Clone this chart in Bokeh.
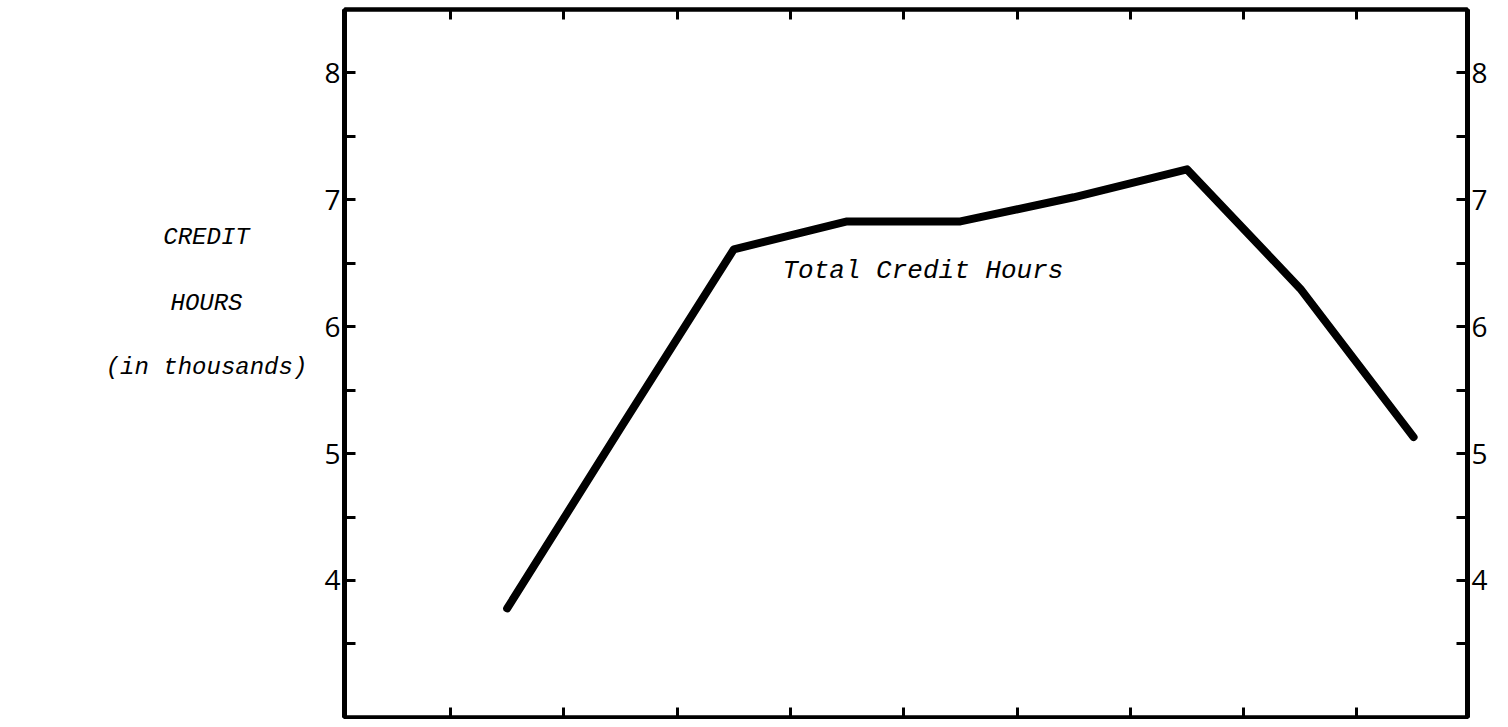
from bokeh.plotting import figure
from bokeh.layouts import row
from bokeh.models import Range1d, LinearAxis, FixedTicker, Label, CustomJSTickFormatter
from bokeh.core.properties import value
from bokeh.embed import file_html
from bokeh.resources import INLINE

# Data
periods = [1, 2, 3, 4, 5, 6, 7, 8, 9]
credit_hours = [3.78, 5.20, 6.61, 6.83, 6.83, 7.02, 7.24, 6.30, 5.13]
y_major = [4, 5, 6, 7, 8]
y_minor = [3.5, 4.5, 5.5, 6.5, 7.5]
x_ticks = [0.5, 1.5, 2.5, 3.5, 4.5, 5.5, 6.5, 7.5, 8.5]
series_label = "Total Credit Hours"
axis_lines = ["CREDIT", "HOURS", "(in thousands)"]
axis_line_y = [6.70, 6.18, 5.68]

TYPE_FONT = "Liberation Mono"
NUM_FONT = "Open Sans"
Y_RANGE = (2.92, 8.5)

# Left panel holding the horizontal y-axis title
side = figure(
    frame_width=320, frame_height=708,
    x_range=Range1d(0, 320), y_range=Range1d(*Y_RANGE),
    output_backend="svg", toolbar_location=None,
    min_border_left=0, min_border_right=0, min_border_top=9, min_border_bottom=2,
    x_axis_location=None, y_axis_location=None,
)
side.grid.visible = False
side.outline_line_color = None
side.text(x=[206] * len(axis_lines), y=axis_line_y, text=axis_lines,
          text_font=value(TYPE_FONT), text_font_style="italic", text_font_size="24px",
          text_align="center", text_baseline="middle", text_color="black")

p = figure(
    frame_width=1123, frame_height=708,
    x_range=Range1d(-0.436, 9.476), y_range=Range1d(*Y_RANGE),
    output_backend="svg", toolbar_location=None,
    min_border_left=24, min_border_right=31, min_border_top=9, min_border_bottom=2,
    x_axis_location=None, y_axis_location=None,
)
p.grid.visible = False
p.background_fill_color = "white"
p.border_fill_color = "white"
p.outline_line_color = "black"
p.outline_line_width = 4

def y_axis():
    ax = LinearAxis(ticker=FixedTicker(ticks=y_major, minor_ticks=y_minor))
    ax.axis_line_width = 5
    ax.axis_line_color = "black"
    ax.major_tick_in = 11
    ax.major_tick_out = 0
    ax.minor_tick_in = 11
    ax.minor_tick_out = 0
    ax.major_tick_line_width = 3
    ax.minor_tick_line_width = 3
    ax.major_label_text_font = NUM_FONT
    ax.major_label_text_font_size = "28px"
    ax.major_label_text_color = "black"
    ax.major_label_standoff = 4
    return ax

p.add_layout(y_axis(), "left")
p.add_layout(y_axis(), "right")

def x_axis():
    ax = LinearAxis(ticker=FixedTicker(ticks=x_ticks, minor_ticks=[]))
    ax.axis_line_width = 4
    ax.axis_line_color = "black"
    ax.major_tick_in = 10
    ax.major_tick_out = 0
    ax.major_tick_line_width = 3
    ax.minor_tick_line_color = None
    ax.formatter = CustomJSTickFormatter(code="return ''")
    ax.major_label_text_font_size = "0px"
    ax.major_label_standoff = 0
    return ax

p.add_layout(x_axis(), "below")
p.add_layout(x_axis(), "above")

p.line(periods, credit_hours, line_color="black", line_width=8,
       line_cap="round", line_join="round")

p.add_layout(Label(x=3.43, y=6.44, text=series_label, text_font=TYPE_FONT,
                   text_font_style="italic", text_font_size="26px",
                   text_align="left", text_baseline="middle", text_color="black"))

layout = row(side, p, spacing=0)
open("out.html", "w").write(file_html(layout, INLINE))
